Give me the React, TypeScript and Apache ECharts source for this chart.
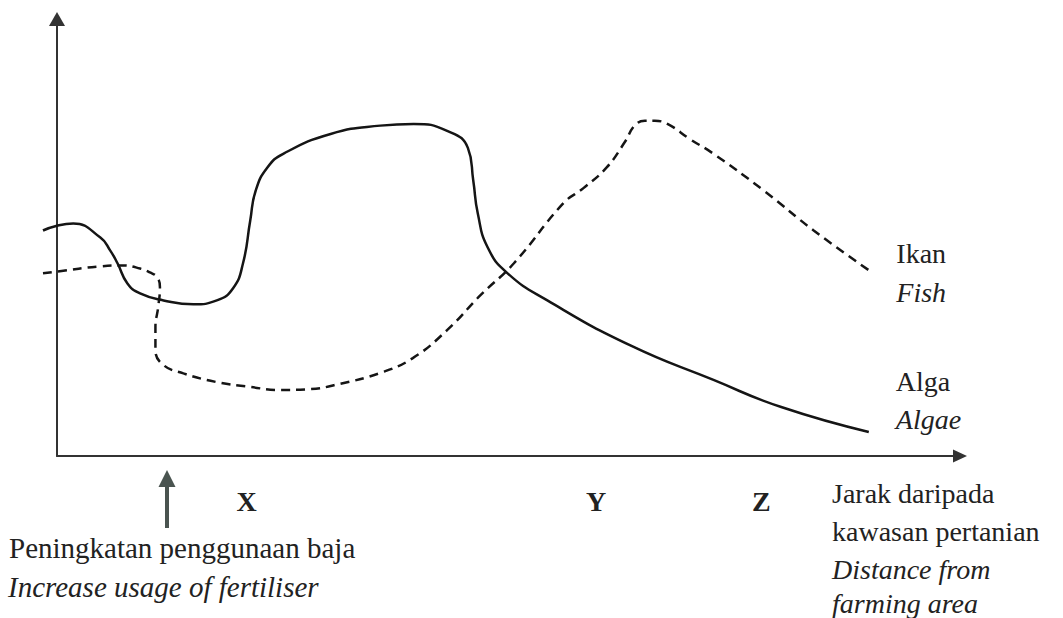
import React, { useEffect, useRef } from "react";
import * as echarts from "echarts";

// Algae (solid line): distance from farming area vs level
const algaeDistance = [-1.55, 0, 1.8, 4.8, 5.9, 6.7, 7.8, 9.2, 11.8, 15.1, 17.7, 19.5, 20.6, 21.4, 22.0, 23.3, 25.1, 30.3, 35.8, 39.5, 43.2, 45.5, 46.1, 46.6, 47.7, 49.9, 54.3, 63.5, 72.7, 80.2, 89.9];
const algaeLevel = [51.6, 52.7, 53.2, 50.0, 47.0, 44.1, 39.5, 37.2, 35.6, 34.7, 35.6, 38.4, 44.1, 53.9, 60.7, 66.0, 69.2, 73.7, 75.6, 76.0, 74.4, 70.5, 63.0, 55.5, 47.7, 41.8, 35.6, 25.3, 17.4, 11.2, 5.5];

// Fish (dashed line)
const fishDistance = [-1.55, 0, 4.8, 7.3, 9.2, 10.3, 11.1, 11.4, 11.2, 10.9, 10.9, 11.8, 14.0, 17.7, 21.4, 24.7, 28.0, 31.3, 35.8, 39.4, 43.2, 46.9, 50.6, 56.1, 58.3, 60.9, 62.9, 64.0, 65.1, 66.2, 67.6, 70.1, 72.6, 78.3, 83.8, 90.4];
const fishLevel = [41.8, 42.2, 43.4, 43.6, 42.9, 42.0, 40.9, 38.6, 34.0, 29.5, 24.2, 20.8, 18.9, 16.9, 15.8, 15.1, 15.3, 16.5, 19.0, 22.4, 28.8, 36.8, 44.1, 57.9, 61.3, 66.1, 71.9, 75.7, 76.7, 76.7, 76.0, 72.5, 69.3, 60.7, 51.6, 41.8];

// Point labels on the distance axis
const pointLabels = ["X", "Y", "Z"];
const pointPositions = [21.0, 59.7, 78.0];

const X_MIN_DATA = -1.55;
const X_MAX = 100;

const SERIF = "Liberation Serif";
const INK = "#222222";

export default function App() {
  const ref = useRef<HTMLDivElement>(null);

  useEffect(() => {
    if (!ref.current) return;
    const chart = echarts.init(ref.current, undefined, { renderer: "svg" });
    const zip = (xs: number[], ys: number[]) => xs.map((x, i) => [x, ys[i]]);

    const axisLeft = 57;
    const axisRight = 960;
    const pxPerUnit = (axisRight - axisLeft) / X_MAX;
    const dataLeft = axisLeft + X_MIN_DATA * pxPerUnit;

    const txt = (text: string, x: number, y: number, italic = false, size = 28) => ({
      type: "text",
      x,
      y,
      silent: true,
      style: {
        text,
        fill: INK,
        fontFamily: SERIF,
        fontSize: size,
        fontStyle: italic ? "italic" : "normal",
        align: "left",
        verticalAlign: "middle",
      },
    });

    const hiddenAxis = {
      type: "value",
      splitLine: { show: false },
      axisTick: { show: false },
      axisLabel: { show: false },
      axisLine: { show: false },
    };

    const richStyle = (italic: boolean, lh: number) => ({
      fontFamily: SERIF,
      fontSize: 28,
      fontStyle: italic ? "italic" : "normal",
      fontWeight: "normal",
      color: INK,
      lineHeight: lh,
    });

    chart.setOption({
      animation: false,
      backgroundColor: "#ffffff",
      textStyle: { fontFamily: SERIF },
      grid: [
        { left: axisLeft, right: 1063 - axisRight, top: 19, bottom: 162 },
        { left: dataLeft, right: 1063 - axisRight, top: 19, bottom: 162 },
      ],
      xAxis: [
        {
          type: "value",
          gridIndex: 0,
          min: 0,
          max: X_MAX,
          splitLine: { show: false },
          axisTick: { show: false },
          axisLine: {
            show: true,
            symbol: ["none", "triangle"],
            symbolSize: [13, 14],
            lineStyle: { color: "#333333", width: 2 },
          },
          axisLabel: {
            show: true,
            customValues: pointPositions,
            formatter: (v: number) => {
              const i = pointPositions.findIndex((p) => Math.abs(p - v) < 1e-6);
              return i >= 0 ? pointLabels[i] : "";
            },
            fontFamily: SERIF,
            fontWeight: "bold",
            fontSize: 28,
            color: INK,
            margin: 31,
          },
        },
        { ...hiddenAxis, gridIndex: 1, min: X_MIN_DATA, max: X_MAX },
      ],
      yAxis: [
        {
          type: "value",
          gridIndex: 0,
          min: 0,
          max: 100,
          splitLine: { show: false },
          axisTick: { show: false },
          axisLabel: { show: false },
          axisLine: {
            show: true,
            symbol: ["none", "triangle"],
            symbolSize: [16, 14],
            lineStyle: { color: "#333333", width: 2 },
          },
        },
        { ...hiddenAxis, gridIndex: 1, min: 0, max: 100 },
      ],
      series: [
        {
          name: "Alga / Algae",
          type: "line",
          xAxisIndex: 1,
          yAxisIndex: 1,
          data: zip(algaeDistance, algaeLevel),
          smooth: 0.5,
          showSymbol: false,
          lineStyle: { color: "#151515", width: 2.5 },
          endLabel: {
            show: true,
            distance: 27,
            offset: [0, -31],
            fontFamily: SERIF,
            fontSize: 28,
            color: INK,
            formatter: () => "{a|Alga}\n{b|Algae}",
            rich: { a: richStyle(false, 38), b: richStyle(true, 38) },
          },
        },
        {
          name: "Ikan / Fish",
          type: "line",
          xAxisIndex: 1,
          yAxisIndex: 1,
          data: zip(fishDistance, fishLevel),
          smooth: 0.45,
          showSymbol: false,
          lineStyle: { color: "#151515", width: 2.5, type: [9, 6] },
          endLabel: {
            show: true,
            distance: 23,
            fontFamily: SERIF,
            fontSize: 28,
            color: INK,
            formatter: () => "{a|Ikan}\n{b|Fish}",
            rich: { a: richStyle(false, 39), b: richStyle(true, 39) },
          },
        },
      ],
      graphic: [
        {
          type: "polygon",
          silent: true,
          shape: { points: [[167, 470], [158.5, 487], [175.5, 487]] },
          style: { fill: "#4a5450" },
        },
        {
          type: "rect",
          silent: true,
          shape: { x: 165, y: 485, width: 4, height: 43 },
          style: { fill: "#4a5450" },
        },
        txt("Peningkatan penggunaan baja", 9, 548, false, 29),
        txt("Increase usage of fertiliser", 8, 587, true, 29),
        txt("Jarak daripada", 832, 493),
        txt("kawasan pertanian", 832, 531),
        txt("Distance from", 832, 569, true),
        txt("farming area", 832, 603, true),
      ],
    });

    return () => chart.dispose();
  }, []);

  return (
    <div
      ref={ref}
      style={{ position: "fixed", left: 0, top: 0, width: 1063, height: 618, background: "#fff" }}
    />
  );
}
